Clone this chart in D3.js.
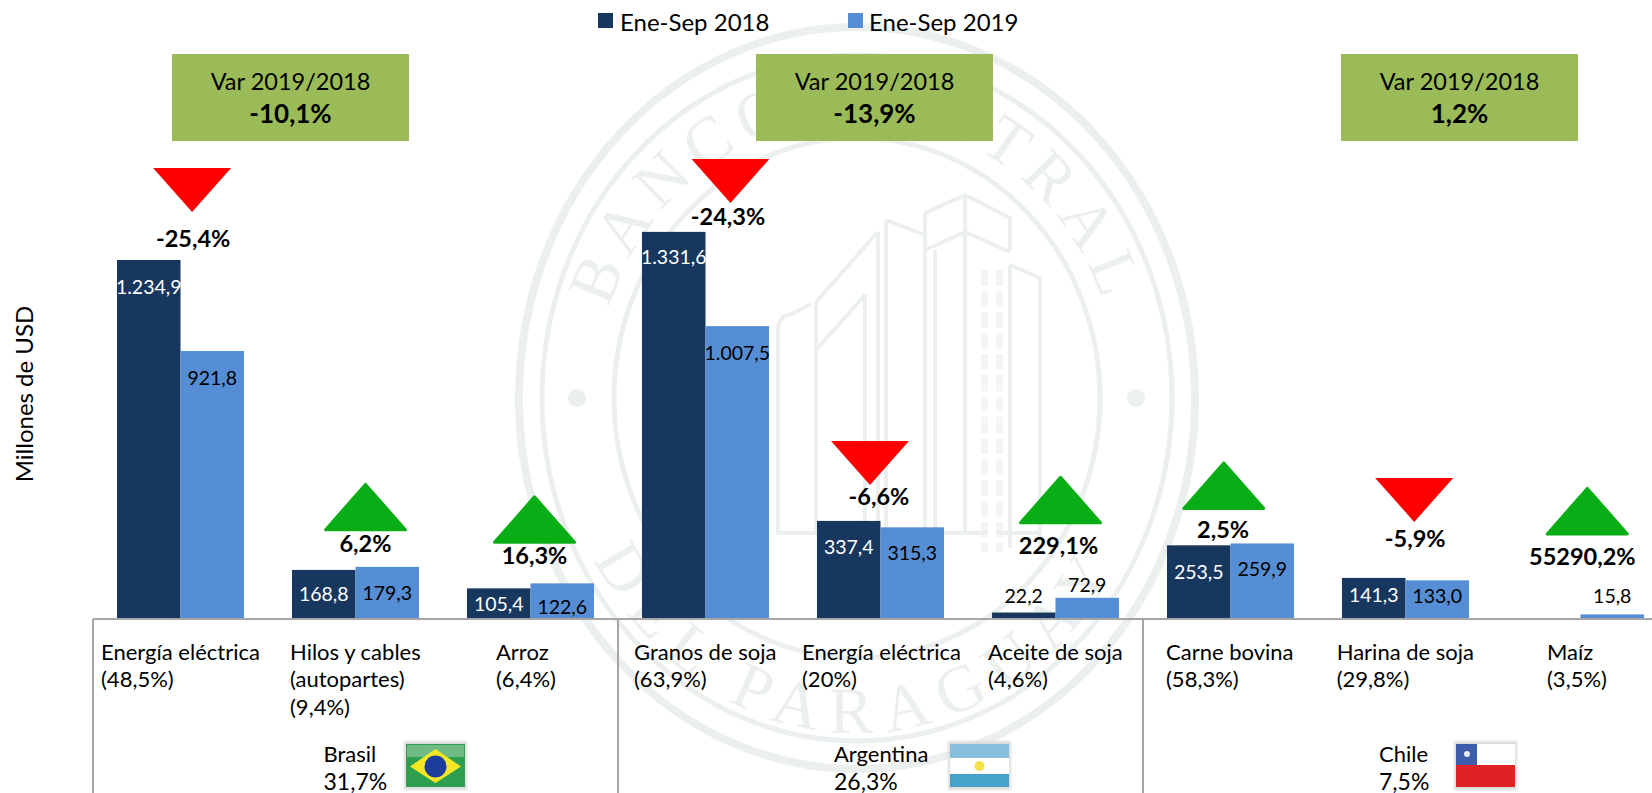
<!DOCTYPE html>
<html lang="es">
<head>
<meta charset="utf-8">
<script src="https://cdn.jsdelivr.net/npm/d3@7/dist/d3.min.js"></script>
<style>
html,body{margin:0;padding:0;background:#fff;overflow:hidden}
svg{display:block}
text{font-family:Lato,"Noto Sans",sans-serif;fill:#000}
</style>
</head>
<body>
<svg id="chart" width="1652" height="793"></svg>
<script>
// ---------- data ----------
const countries = ["Brasil", "Argentina", "Chile"];
const countryShares = ["31,7%", "26,3%", "7,5%"];
const countryVariations = ["-10,1%", "-13,9%", "1,2%"];
const categories = ["Energía eléctrica|BR", "Hilos y cables|BR", "Arroz|BR", "Granos de soja|AR", "Energía eléctrica|AR", "Aceite de soja|AR", "Carne bovina|CL", "Harina de soja|CL", "Maíz|CL"];
const categoryCountry = [0, 0, 0, 1, 1, 1, 2, 2, 2];
const categoryLines = [["Energía eléctrica", "(48,5%)"], ["Hilos y cables", "(autopartes)", "(9,4%)"], ["Arroz", "(6,4%)"], ["Granos de soja", "(63,9%)"], ["Energía eléctrica", "(20%)"], ["Aceite de soja", "(4,6%)"], ["Carne bovina", "(58,3%)"], ["Harina de soja", "(29,8%)"], ["Maíz", "(3,5%)"]];
const seriesNames = ["Ene-Sep 2018", "Ene-Sep 2019"];
const values2018 = [1234.9, 168.8, 105.4, 1331.6, 337.4, 22.2, 253.5, 141.3, 0.03];
const values2019 = [921.8, 179.3, 122.6, 1007.5, 315.3, 72.9, 259.9, 133.0, 15.8];
const labels2018 = ["1.234,9", "168,8", "105,4", "1.331,6", "337,4", "22,2", "253,5", "141,3", ""];
const labels2019 = ["921,8", "179,3", "122,6", "1.007,5", "315,3", "72,9", "259,9", "133,0", "15,8"];
const variationLabels = ["-25,4%", "6,2%", "16,3%", "-24,3%", "-6,6%", "229,1%", "2,5%", "-5,9%", "55290,2%"];

// ---------- layout (offsets of annotations around the marks) ----------
const W = 1652, H = 793, baseY = 619;
const groupSpans = [[93, 618], [618, 1143], [1143, 1668]];
const boxCenters = [290.5, 874.5, 1459.5];
const label18Dy = [27, 24, 15, 25, 26, -17, 26, 17, 0];
const label19Dy = [26, 26, 23, 26, 25, -13, 25, 15, -19];
const arrowDx = [11.6, 10, 4, 25, -10.5, 5, -6.7, 8.7, 6.8];
const arrowLift = [92, 84, 88, 73, 80, 122, 82, 100, 127.5];
const varDx = [12.6, 10, 4, 22.5, -1.5, 3, -7.4, 9.7, 1.8];
const varLift = [22, 24, 28, 16, 25, 53, 14.5, 40, 58];
const catTextX = [101, 290, 496, 634, 802, 988, 1166, 1336.7, 1547];
const countryTextX = [323.5, 834, 1379];
const flagX = [406, 950, 1456];

const colors = {s18: "#17375E", s19: "#558ED5", box: "#9BBB59", up: "#09AE17", down: "#FF0000", axis: "#A6A6A6", seal: "#EBF0EE"};
const svg = d3.select("#chart");
const defs = svg.append("defs");
defs.append("filter").attr("id", "soft").append("feGaussianBlur").attr("stdDeviation", 0.7);
defs.append("filter").attr("id", "softer").attr("x", "-20%").attr("y", "-20%").attr("width", "140%").attr("height", "140%")
  .append("feGaussianBlur").attr("stdDeviation", 1.2);

// ---------- watermark seal ----------
const sealG = svg.append("g").attr("filter", "url(#soft)");
const seal = sealG.append("g").attr("fill", "none").attr("stroke", colors.seal);
const cx = 857, cy = 398;
[[338, 371, 8], [315, 343, 5], [243, 260, 5]].forEach(([rx, ry, w]) =>
  seal.append("ellipse").attr("cx", cx).attr("cy", cy).attr("rx", rx).attr("ry", ry).attr("stroke-width", w));
[577, 1136].forEach(x => seal.append("circle").attr("cx", x).attr("cy", 398).attr("r", 9).attr("fill", colors.seal).attr("stroke", "none"));
const sealLines = [
  "M925,213L965,195L1010,218L1010,250", "M925,250L965,232L1010,252", "M965,195V535", "M925,213V535", "M935,250V535",
  "M886,220L925,235", "M886,220V535", "M878,232L816,302", "M878,232V535", "M865,295L816,350", "M865,295V535",
  "M1010,265L1040,278V548", "M1010,265V548", "M816,302V535", "M778,535V330Q778,316 792,314L811,304", "M778,533H1040"
];
seal.selectAll("path.line").data(sealLines).join("path").attr("class", "line").attr("d", d => d).attr("stroke-width", 4);
seal.append("path").attr("d", "M992,270V552").attr("stroke-width", 22).attr("stroke-dasharray", "16 5").attr("opacity", .6);
seal.append("path").attr("d", "M992,270V552").attr("stroke", "#fff").attr("stroke-width", 8);
const ell = (id, rx, ry, sweep) => {
  const start = sweep ? `M${cx - rx},${cy}A${rx},${ry} 0 0 1 ${cx + rx},${cy}` : `M${cx - rx},${cy}A${rx},${ry} 0 0 0 ${cx + rx},${cy}`;
  defs.append("path").attr("id", id).attr("d", start);
};
ell("arcTop", 262, 280, true);
ell("arcBottom", 300, 335, false);
const sealText = (id, text, offset, spacing) => sealG.append("text")
  .style("font-family", "'Liberation Serif',serif").style("font-size", "66px").style("fill", colors.seal)
  .style("letter-spacing", spacing + "px")
  .append("textPath").attr("href", "#" + id).attr("startOffset", offset).attr("text-anchor", "middle").text(text);
sealText("arcTop", "BANCO CENTRAL", "50%", 9);
sealText("arcBottom", "DEL PARAGUAY", "50%", 14);

// ---------- scales ----------
const y = d3.scaleLinear().domain([0, 1400]).range([baseY, baseY - 407]);
const xScales = groupSpans.map((span, g) => d3.scaleBand()
  .domain(categories.filter((_, i) => categoryCountry[i] === g))
  .range(span).paddingInner(0.274).paddingOuter(0.137));
const x0 = i => xScales[categoryCountry[i]](categories[i]);
const bw = i => xScales[categoryCountry[i]].bandwidth();
const xc = i => x0(i) + bw(i) / 2;

// ---------- bars ----------
const rows = categories.map((c, i) => i);
const series = [
  {vals: values2018, labs: label18Dy, txt: labels2018, fill: colors.s18, off: 0, ink: "#fff"},
  {vals: values2019, labs: label19Dy, txt: labels2019, fill: colors.s19, off: 1, ink: "#000"}
];
series.forEach(s => {
  const g = svg.append("g");
  g.selectAll("rect").data(rows).join("rect")
    .attr("x", i => x0(i) + s.off * bw(i) / 2)
    .attr("width", i => bw(i) / 2)
    .attr("y", i => y(s.vals[i]))
    .attr("height", i => baseY - y(s.vals[i]))
    .attr("fill", s.fill);
  g.selectAll("text").data(rows).join("text")
    .attr("x", i => x0(i) + s.off * bw(i) / 2 + bw(i) / 4)
    .attr("y", i => y(s.vals[i]) + s.labs[i])
    .attr("text-anchor", "middle").attr("dominant-baseline", "central")
    .style("font-size", "19.5px")
    .style("fill", i => s.labs[i] > 0 ? s.ink : "#000")
    .text(i => s.txt[i]);
});

// ---------- axis frame ----------
const frame = svg.append("g").attr("stroke", colors.axis).attr("stroke-width", 2);
frame.append("line").attr("x1", 93).attr("x2", W).attr("y1", baseY).attr("y2", baseY);
groupSpans.forEach(sp => frame.append("line").attr("x1", sp[0]).attr("x2", sp[0]).attr("y1", baseY).attr("y2", H));

// ---------- category labels ----------
rows.forEach(i => {
  const t = svg.append("text").attr("dominant-baseline", "central").style("font-size", "22px");
  categoryLines[i].forEach((l, k) => t.append("tspan").attr("x", catTextX[i]).attr("y", 650.5 + k * 27.5).text(l));
});

// ---------- variation arrows ----------
const barTop = i => y(Math.max(values2018[i], values2019[i]));
rows.forEach(i => {
  const down = variationLabels[i].startsWith("-");
  const c = xc(i) + arrowDx[i], t = barTop(i) - arrowLift[i];
  if (down) {
    svg.append("path").attr("d", `M${c - 39},${t}H${c + 39}L${c},${t + 44}Z`).attr("fill", colors.down);
  } else {
    svg.append("path").attr("d", `M${c},${t + 1.5}L${c + 40},${t + 47}H${c - 40}Z`).attr("fill", colors.up)
      .attr("stroke", colors.up).attr("stroke-width", 3).attr("stroke-linejoin", "round");
  }
  svg.append("text").attr("x", xc(i) + varDx[i]).attr("y", barTop(i) - varLift[i])
    .attr("text-anchor", "middle").attr("dominant-baseline", "central")
    .style("font-size", "23.5px").style("font-weight", 700).text(variationLabels[i]);
});

// ---------- variation boxes ----------
boxCenters.forEach((c, g) => {
  svg.append("rect").attr("x", c - 118.5).attr("y", 54).attr("width", 237).attr("height", 87).attr("fill", colors.box);
  svg.append("text").attr("x", c).attr("y", 81).attr("text-anchor", "middle").attr("dominant-baseline", "central")
    .style("font-size", "23.5px").text("Var 2019/2018");
  svg.append("text").attr("x", c).attr("y", 113).attr("text-anchor", "middle").attr("dominant-baseline", "central")
    .style("font-size", "26px").style("font-weight", 700).text(countryVariations[g]);
});

// ---------- legend ----------
[[598, 620, colors.s18], [848, 869, colors.s19]].forEach(([sx, tx, col], k) => {
  svg.append("rect").attr("x", sx).attr("y", 13).attr("width", 15).attr("height", 15).attr("fill", col);
  svg.append("text").attr("x", tx).attr("y", 21).attr("dominant-baseline", "central").style("font-size", "24px").text(seriesNames[k]);
});

// ---------- y title ----------
svg.append("text").attr("transform", "translate(23,394) rotate(-90)").attr("text-anchor", "middle")
  .attr("dominant-baseline", "central").style("font-size", "24px").text("Millones de USD");

// ---------- countries + flags ----------
countries.forEach((name, g) => {
  svg.append("text").attr("x", countryTextX[g]).attr("y", 753).attr("dominant-baseline", "central").style("font-size", "22px").text(name);
  svg.append("text").attr("x", countryTextX[g]).attr("y", 781).attr("dominant-baseline", "central").style("font-size", "23px").text(countryShares[g]);
  const fx = flagX[g], fy = 744, fw = 59, fh = 43;
  const f = svg.append("g").attr("transform", `translate(${fx},${fy})`);
  f.append("rect").attr("x", -2).attr("y", -3).attr("width", fw + 4).attr("height", fh + 6).attr("fill", "#DDDDDD").attr("filter", "url(#softer)");
  const fl = f.append("g").attr("filter", "url(#soft)");
  if (g === 0) {
    fl.append("rect").attr("width", fw).attr("height", fh).attr("fill", "#2F9E50");
    fl.append("rect").attr("x", 1).attr("y", 1).attr("width", fw - 2).attr("height", 12).attr("fill", "#6FBB85");
    fl.append("path").attr("d", `M${fw / 2},5L${fw - 4},${fh / 2 + 1}L${fw / 2},${fh - 4}L4,${fh / 2 + 1}Z`).attr("fill", "#F4E826");
    fl.append("circle").attr("cx", fw / 2).attr("cy", fh / 2 + 1).attr("r", 11).attr("fill", "#1F3E9C");
  } else if (g === 1) {
    fl.append("rect").attr("width", fw).attr("height", 14).attr("fill", "#85BFDC");
    fl.append("rect").attr("y", 14).attr("width", fw).attr("height", 16).attr("fill", "#FFFFFF");
    fl.append("rect").attr("y", 30).attr("width", fw).attr("height", 13).attr("fill", "#47A2CB");
    fl.append("circle").attr("cx", fw / 2).attr("cy", 22).attr("r", 5).attr("fill", "#F5E04A");
  } else {
    fl.append("rect").attr("width", fw).attr("height", 21).attr("fill", "#FFFFFF");
    fl.append("rect").attr("width", 21).attr("height", 21).attr("fill", "#3E5BA9");
    fl.append("circle").attr("cx", 11).attr("cy", 10).attr("r", 3).attr("fill", "#E6ECF6");
    fl.append("rect").attr("y", 21).attr("width", fw).attr("height", 22).attr("fill", "#DF2027");
  }
});
</script>
</body>
</html>
